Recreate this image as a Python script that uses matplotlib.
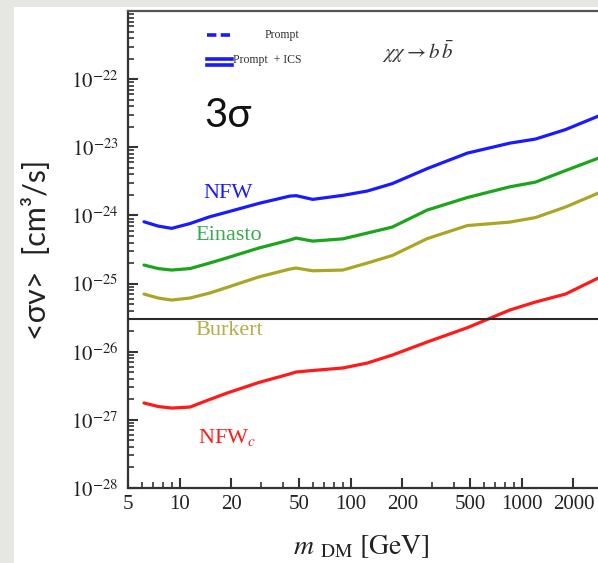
import matplotlib
matplotlib.use("Agg")
import matplotlib.pyplot as plt
from matplotlib.patches import Rectangle
from matplotlib.ticker import FixedLocator, FixedFormatter, NullFormatter

plt.rcParams["mathtext.fontset"] = "stix"

# ---- data ----
mass = [6.2, 7.5, 9, 11.5, 15, 19, 29, 44, 48, 60, 90, 125, 175, 280, 480, 850, 1200, 1800, 2800, 3500]
nfw = [8.07e-25, 6.98e-25, 6.46e-25, 7.59e-25, 9.55e-25, 1.12e-24, 1.50e-24, 1.92e-24, 1.95e-24, 1.72e-24,
       1.97e-24, 2.28e-24, 2.93e-24, 4.87e-24, 8.21e-24, 1.15e-23, 1.32e-23, 1.82e-23, 2.87e-23, 3.75e-23]
einasto = [1.87e-25, 1.66e-25, 1.58e-25, 1.66e-25, 2.00e-25, 2.39e-25, 3.32e-25, 4.35e-25, 4.65e-25, 4.20e-25,
           4.53e-25, 5.51e-25, 6.75e-25, 1.20e-24, 1.83e-24, 2.63e-24, 3.08e-24, 4.55e-24, 6.93e-24, 8.79e-24]
burkert = [7.02e-26, 6.13e-26, 5.73e-26, 6.13e-26, 7.26e-26, 8.80e-26, 1.25e-25, 1.63e-25, 1.69e-25, 1.54e-25,
           1.58e-25, 2.00e-25, 2.58e-25, 4.57e-25, 7.10e-25, 7.98e-25, 9.30e-25, 1.33e-24, 2.13e-24, 2.69e-24]
nfwc = [1.77e-27, 1.57e-27, 1.49e-27, 1.54e-27, 1.99e-27, 2.48e-27, 3.53e-27, 4.71e-27, 5.04e-27, 5.30e-27,
        5.77e-27, 6.82e-27, 8.93e-27, 1.39e-26, 2.25e-26, 4.09e-26, 5.36e-26, 7.02e-26, 1.21e-25, 1.58e-25]
thermal = 3e-26

series_names = ["NFW", "Einasto", "Burkert", "NFW$_c$"]
x_tick_values = [5, 10, 20, 50, 100, 200, 500, 1000, 2000]
x_tick_labels = ["5", "10", "20", "50", "100", "200", "500", "1000", "2000"]
y_tick_values = [1e-28, 1e-27, 1e-26, 1e-25, 1e-24, 1e-23, 1e-22]
y_tick_labels = [r"$10^{-28}$", r"$10^{-27}$", r"$10^{-26}$", r"$10^{-25}$",
                 r"$10^{-24}$", r"$10^{-23}$", r"$10^{-22}$"]

# ---- style ----
c_blue = "#1a1aff"
c_green = "#1aa51a"
c_olive = "#aaa524"
c_red = "#ff1a1a"
lbl_green = "#3aaa50"
lbl_olive = "#b5ad45"

W, H = 598, 563
fig = plt.figure(figsize=(W / 100, H / 100), dpi=100)
fig.patch.set_facecolor("#e6e6e3")
bg = fig.add_axes([14 / W, 0, 1 - 14 / W, 1 - 7 / H], zorder=-5)
bg.set_facecolor("white")
bg.set_axis_off()
bg.add_patch(Rectangle((0, 0), 1, 1, transform=bg.transAxes, facecolor="white", edgecolor="none"))

ax = fig.add_axes([128 / W, 1 - 488 / H, 487 / W, 477 / H], zorder=1)
ax.set_xscale("log")
ax.set_yscale("log")
ax.set_xlim(5, 3500)
ax.set_ylim(1e-28, 1e-21)
ax.set_facecolor("white")

lw = 2.3
ax.plot(mass, nfw, color=c_blue, lw=lw, solid_capstyle="round", solid_joinstyle="round")
ax.plot(mass, einasto, color=c_green, lw=lw, solid_capstyle="round", solid_joinstyle="round")
ax.plot(mass, burkert, color=c_olive, lw=lw, solid_capstyle="round", solid_joinstyle="round")
ax.plot(mass, nfwc, color=c_red, lw=lw, solid_capstyle="round", solid_joinstyle="round")
ax.axhline(thermal, color="#2a2a2a", lw=1.5, zorder=3)

# spines
for s in ["left", "bottom", "top"]:
    ax.spines[s].set_linewidth(1.6)
    ax.spines[s].set_color("#333333")
ax.spines["top"].set_color("#555555")
ax.spines["right"].set_visible(False)

# ticks
ax.xaxis.set_major_locator(FixedLocator(x_tick_values))
ax.xaxis.set_major_formatter(FixedFormatter(x_tick_labels))
xminor = [m * 10 ** e for e in range(0, 4) for m in range(1, 10) if 5 <= m * 10 ** e <= 3500]
ax.xaxis.set_minor_locator(FixedLocator(xminor))
ax.xaxis.set_minor_formatter(NullFormatter())

ax.yaxis.set_major_locator(FixedLocator(y_tick_values))
ax.yaxis.set_major_formatter(FixedFormatter(y_tick_labels))
yminor = [m * 10.0 ** e for e in range(-28, -21) for m in range(2, 10)]
ax.yaxis.set_minor_locator(FixedLocator(yminor))
ax.yaxis.set_minor_formatter(NullFormatter())

ax.tick_params(axis="both", which="major", direction="in", length=7, width=1.5,
               color="#333333", top=False, right=False)
ax.tick_params(axis="both", which="minor", direction="in", length=4.5, width=1.2,
               color="#333333", top=False, right=False)
ax.tick_params(axis="x", which="major", pad=5, labelsize=15, labelcolor="#222222")
ax.tick_params(axis="y", which="major", pad=7, labelsize=15, labelcolor="#222222")
for t in ax.get_xticklabels():
    t.set_fontfamily("Liberation Serif")

# axis labels
fig.text(37 / W, 1 - 250 / H, "<σv>  [cm³/s]", rotation=90, ha="center", va="center",
         fontsize=22, family=["Lato", "DejaVu Sans"], color="#222222", zorder=2)
fig.text(361 / W, 1 - 546 / H, r"$m\ _{\mathrm{DM}}\ [\mathrm{GeV}]$", ha="center",
         va="center", fontsize=20, color="#222222", zorder=2)

# annotations
ax.text(0.156, 0.780, "3σ", transform=ax.transAxes, ha="left", va="center",
        fontsize=29, family=["Lato", "DejaVu Sans"], color="#111111")
ax.text(0.595, 0.914, r"$\chi\chi \rightarrow b\,\bar{b}$", transform=ax.transAxes,
        ha="center", va="center", fontsize=15, color="#333333")

lab_font = dict(family="Liberation Serif", fontsize=16, ha="center", va="center",
                transform=ax.transAxes)
ax.text(0.205, 0.618, series_names[0], color=c_blue, **lab_font)
ax.text(0.207, 0.530, series_names[1], color=lbl_green, **lab_font)
ax.text(0.207, 0.331, series_names[2], color=lbl_olive, **lab_font)
ax.text(0.203, 0.105, series_names[3], color=c_red, **lab_font)

# legend (drawn in axes fraction)
ax.plot([0.162, 0.209], [0.950, 0.950], transform=ax.transAxes, color=c_blue, lw=2.6,
        dashes=(2.6, 1.2))
ax.plot([0.162, 0.214], [0.899, 0.899], transform=ax.transAxes, color=c_blue, lw=2.6)
ax.plot([0.162, 0.214], [0.886, 0.886], transform=ax.transAxes, color=c_blue, lw=2.6)
ax.text(0.316, 0.950, "Prompt", transform=ax.transAxes, ha="center", va="center",
        fontsize=8.5, family="Liberation Serif", color="#333333")
ax.text(0.216, 0.897, "Prompt  + ICS", transform=ax.transAxes, ha="left", va="center",
        fontsize=8.5, family="Liberation Serif", color="#333333")

fig.savefig("out.png", dpi=100, facecolor=fig.get_facecolor())
